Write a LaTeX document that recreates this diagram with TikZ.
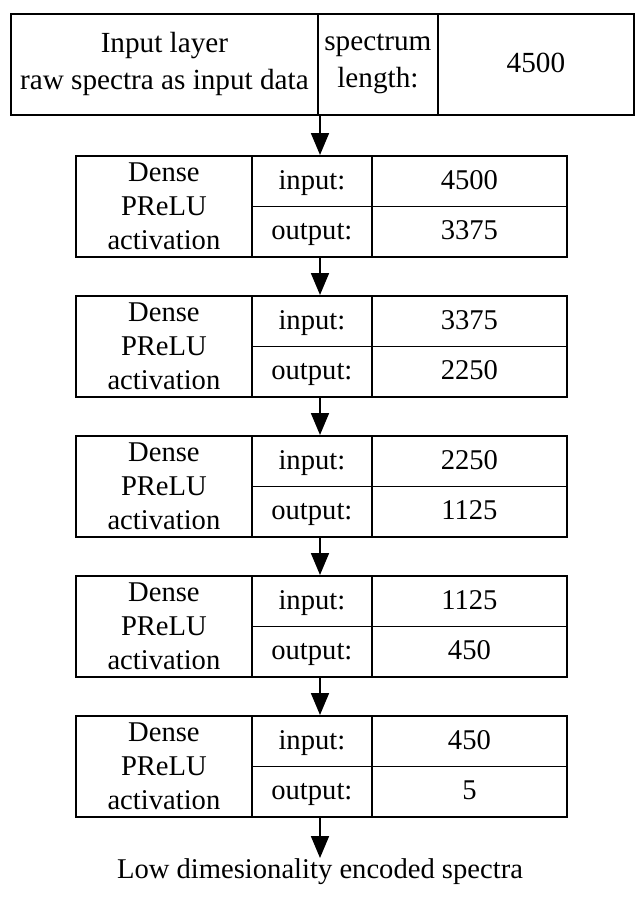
\documentclass[tikz,border=0pt]{standalone}
\usepackage{fontspec}
\setmainfont{Liberation Serif}
\usetikzlibrary{arrows.meta}
\newcommand{\fsz}{\fontsize{28.6}{34}\selectfont}
\newcommand{\fst}{\fontsize{29.2}{37}\selectfont}
\begin{document}
\begin{tikzpicture}[x=1pt,y=-1pt,
  cell/.style={draw,line width=1.8pt,inner sep=0pt,anchor=north west,align=center,font=\fsz},
  one/.style={cell,text height=19.5pt,text depth=2.9pt},
  arr/.style={-{Triangle[length=22pt,width=18pt]},line width=1.8pt}]
\useasboundingbox[fill=white] (0,0) rectangle (643,899);
\coordinate (ax) at (320,0);
% input layer
\node[cell,font=\fst,minimum width=307pt,minimum height=101pt] (top) at (10,13) {Input layer\\raw spectra as input data};
\node[cell,font=\fst,minimum width=120pt,minimum height=101pt] (topm) at (317,13) {spectrum\\length:};
\node[one,font=\fst,minimum width=196pt,minimum height=101pt] (topr) at (437,13) {4500};
% dense layers
\foreach \i/\y/\a/\b in {1/155/4500/3375, 2/295/3375/2250, 3/435/2250/1125, 4/575/1125/450, 5/715/450/5}{
  \node[cell,minimum width=176pt,minimum height=101pt] (L\i) at (75,\y) {Dense\\PReLU\\activation};
  \node[one,minimum width=120pt,minimum height=50.5pt] (IL\i) at (251,\y) {input:};
  \node[one,minimum width=195pt,minimum height=50.5pt] (IV\i) at (371,\y) {\a};
  \node[one,minimum width=120pt,minimum height=50.5pt] (OL\i) at (251,\y+50.5) {output:};
  \node[one,minimum width=195pt,minimum height=50.5pt] (OV\i) at (371,\y+50.5) {\b};
}
\node[inner sep=0pt,anchor=north,font=\fsz] (out) at (320,858) {Low dimesionality encoded spectra};
% arrows
\draw[arr] (top.south -| ax) -- (L1.north -| ax);
\foreach \i/\j in {1/2,2/3,3/4,4/5}{
  \draw[arr] (L\i.south -| ax) -- (L\j.north -| ax);
}
\draw[arr] (L5.south -| ax) -- (out.north -| ax);
\end{tikzpicture}
\end{document}
